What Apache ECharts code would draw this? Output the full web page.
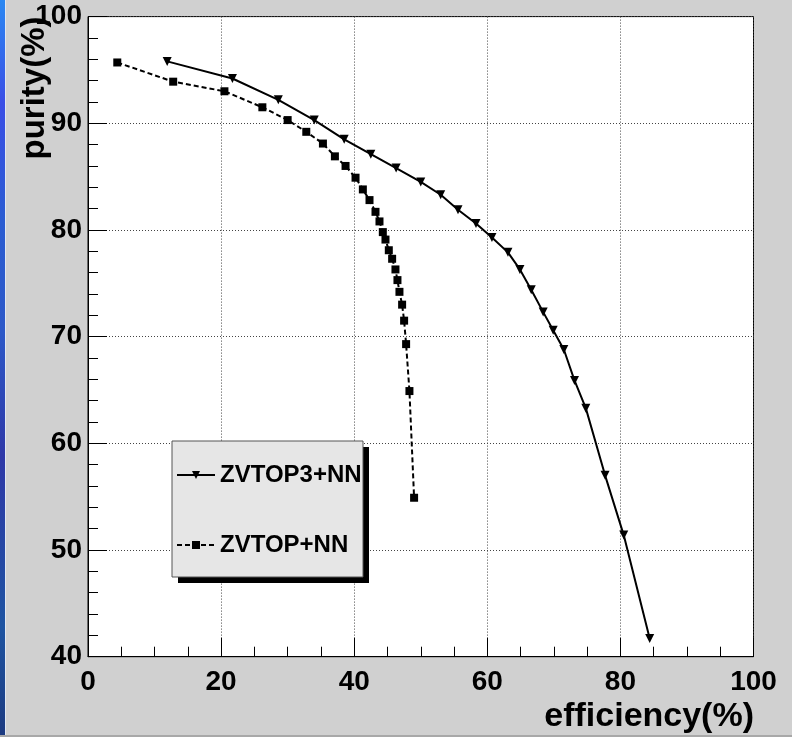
<!DOCTYPE html>
<html>
<head>
<meta charset="utf-8">
<title>purity vs efficiency</title>
<script src="https://cdn.jsdelivr.net/npm/echarts@6/dist/echarts.min.js"></script>
<style>
  html, body { margin: 0; padding: 0; background: #d0d0d0; }
  #chart { width: 792px; height: 737px; }
</style>
</head>
<body>
<div id="chart"></div>
<script>
// ZVTOP3+NN: efficiency (%) and purity (%)
const effZvtop3 = [11.9, 21.7, 28.6, 34.0, 38.5, 42.5, 46.3, 50.0, 53.0, 55.6, 58.3, 60.7, 63.1, 64.9, 66.6, 68.4, 69.9, 71.5, 73.1, 74.8, 77.7, 80.5, 84.4];
const purZvtop3 = [95.8, 94.2, 92.2, 90.3, 88.5, 87.1, 85.8, 84.5, 83.3, 81.9, 80.6, 79.3, 77.9, 76.3, 74.4, 72.3, 70.6, 68.8, 65.9, 63.3, 57.0, 51.4, 41.7];

// ZVTOP+NN: efficiency (%) and purity (%)
const effZvtop = [4.4, 12.8, 20.5, 26.2, 30.0, 32.8, 35.3, 37.1, 38.7, 40.2, 41.3, 42.3, 43.2, 43.8, 44.3, 44.7, 45.2, 45.7, 46.2, 46.5, 46.8, 47.2, 47.5, 47.8, 48.3, 49.0];
const purZvtop = [95.7, 93.9, 93.0, 91.5, 90.3, 89.2, 88.1, 86.9, 86.0, 84.9, 83.8, 82.8, 81.7, 80.8, 79.8, 79.1, 78.1, 77.3, 76.3, 75.3, 74.2, 73.0, 71.5, 69.3, 64.9, 54.9];

const seriesNames = ['ZVTOP3+NN', 'ZVTOP+NN'];
const xTitle = 'efficiency(%)';
const yTitle = 'purity(%)';
const xRange = [0, 100, 20];
const yRange = [40, 100, 10];

const FONT = '"Liberation Sans", Arial, Helvetica, sans-serif';

function pairs(xs, ys) {
  return xs.map((x, i) => [x, ys[i]]);
}

const chart = echarts.init(document.getElementById('chart'), null, { renderer: 'canvas' });

const tickLabel = { color: '#000', fontFamily: FONT, fontWeight: 'bold', fontSize: 28 };
const gridDots = { show: true, lineStyle: { color: '#444', width: 1, type: [1, 2] } };

chart.setOption({
  backgroundColor: '#d0d0d0',
  animation: false,
  grid: {
    left: 88, right: 38.5, top: 16.6, bottom: 80.3,
    show: true, backgroundColor: '#ffffff', borderColor: '#000', borderWidth: 1
  },
  xAxis: {
    type: 'value', min: xRange[0], max: xRange[1], interval: xRange[2],
    axisLine: { show: true, lineStyle: { color: '#000', width: 1 } },
    axisTick: { show: true, inside: true, length: 19, lineStyle: { color: '#000', width: 1 } },
    minorTick: { show: true, splitNumber: 4, length: 10, lineStyle: { color: '#000', width: 1 } },
    axisLabel: Object.assign({ margin: 12, showMinLabel: true, showMaxLabel: true }, tickLabel),
    splitLine: gridDots
  },
  yAxis: {
    type: 'value', min: yRange[0], max: yRange[1], interval: yRange[2],
    axisLine: { show: true, lineStyle: { color: '#000', width: 1 } },
    axisTick: { show: true, inside: true, length: 19, lineStyle: { color: '#000', width: 1 } },
    minorTick: { show: true, splitNumber: 5, length: 10, lineStyle: { color: '#000', width: 1 } },
    axisLabel: Object.assign({ margin: 6, showMinLabel: true, showMaxLabel: true }, tickLabel),
    splitLine: gridDots
  },
  legend: {
    z: 20,
    orient: 'vertical',
    left: 176, top: 463, padding: 0,
    itemWidth: 38, itemHeight: 10, itemGap: 46,
    textStyle: { color: '#000', fontFamily: FONT, fontWeight: 'bold', fontSize: 24 },
    data: seriesNames,
    selectedMode: false
  },
  graphic: [
    // blue edge strip on the left side of the frame
    {
      type: 'rect', z: 1, silent: true,
      shape: { x: 0, y: 0, width: 5, height: 737 },
      style: {
        fill: new echarts.graphic.LinearGradient(0, 0, 0, 1, [
          { offset: 0, color: '#2a88f2' },
          { offset: 0.14, color: '#3a4ee6' },
          { offset: 0.3, color: '#2a5cd2' },
          { offset: 0.45, color: '#2c58c8' },
          { offset: 0.62, color: '#2e38a8' },
          { offset: 0.85, color: '#1e54a2' },
          { offset: 1, color: '#1c3a80' }
        ])
      }
    },
    { type: 'rect', z: 1, silent: true, shape: { x: 5, y: 0, width: 1, height: 737 }, style: { fill: '#dfe6f2' } },
    { type: 'rect', z: 1, silent: true, shape: { x: 0, y: 735, width: 792, height: 2 }, style: { fill: '#a8a8a8' } },
    // legend box with drop shadow
    { type: 'rect', z: 8, silent: true, shape: { x: 178, y: 447, width: 191, height: 136 }, style: { fill: '#000' } },
    { type: 'rect', z: 9, silent: true, shape: { x: 172, y: 441, width: 191, height: 136 }, style: { fill: '#e6e6e6', stroke: '#555', lineWidth: 1 } },
    // axis titles
    {
      type: 'text', z: 10, silent: true,
      x: 754, y: 717,
      style: { text: xTitle, fill: '#000', font: 'bold 34px ' + FONT, textAlign: 'right', textVerticalAlign: 'middle' }
    },
    {
      type: 'text', z: 10, silent: true,
      x: 35, y: 88, rotation: Math.PI / 2,
      style: { text: yTitle, fill: '#000', font: 'bold 33px ' + FONT, textAlign: 'center', textVerticalAlign: 'middle' }
    }
  ],
  series: [
    {
      name: seriesNames[0], type: 'line', z: 3,
      data: pairs(effZvtop3, purZvtop3),
      symbol: 'triangle', symbolRotate: 180, symbolSize: 9,
      showAllSymbol: true,
      lineStyle: { color: '#000', width: 2, type: 'solid' },
      itemStyle: { color: '#000', borderWidth: 0 }
    },
    {
      name: seriesNames[1], type: 'line', z: 3,
      data: pairs(effZvtop, purZvtop),
      symbol: 'rect', symbolSize: 8,
      showAllSymbol: true,
      lineStyle: { color: '#000', width: 2, type: [5, 3] },
      itemStyle: { color: '#000', borderWidth: 0 }
    }
  ]
});
</script>
</body>
</html>
